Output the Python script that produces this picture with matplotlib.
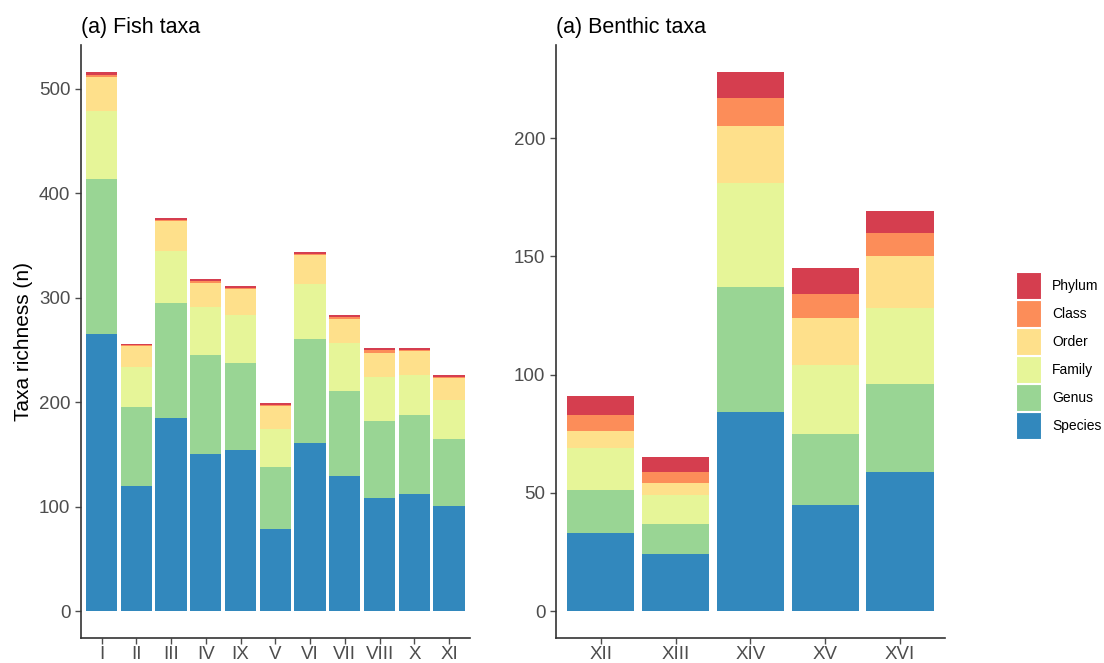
import matplotlib
matplotlib.use("Agg")
import matplotlib.pyplot as plt
from matplotlib.patches import Rectangle
import numpy as np

plt.rcParams['font.family'] = ['Liberation Sans', 'DejaVu Sans']

levels = ["Species", "Genus", "Family", "Order", "Class", "Phylum"]
level_colors = ["#3288BD", "#99D594", "#E6F598", "#FEE08B", "#FC8D59", "#D53E4F"]

# fish taxa richness per site, one list per taxonomic level
fish_sites = ["I", "II", "III", "IV", "IX", "V", "VI", "VII", "VIII", "X", "XI"]
fish_species = [265, 120, 185, 150, 154, 79, 161, 129, 108, 112, 101]
fish_genus = [149, 75, 110, 95, 83, 59, 99, 82, 74, 76, 64]
fish_family = [65, 39, 50, 46, 46, 36, 53, 46, 42, 38, 37]
fish_order = [32, 20, 28, 23, 25, 22, 28, 23, 23, 23, 21]
fish_class = [2, 1, 1, 2, 1, 1, 1, 1, 3, 1, 1]
fish_phylum = [3, 1, 2, 2, 2, 2, 2, 2, 2, 2, 2]

# benthic taxa richness per site
benthic_sites = ["XII", "XIII", "XIV", "XV", "XVI"]
benthic_species = [33, 24, 84, 45, 59]
benthic_genus = [18, 13, 53, 30, 37]
benthic_family = [18, 12, 44, 29, 32]
benthic_order = [7, 5, 24, 20, 22]
benthic_class = [7, 5, 12, 10, 10]
benthic_phylum = [8, 6, 11, 11, 9]

fish = [fish_species, fish_genus, fish_family, fish_order, fish_class, fish_phylum]
benthic = [benthic_species, benthic_genus, benthic_family, benthic_order,
           benthic_class, benthic_phylum]


def stacked(ax, sites, layers, title, ticks):
    x = np.arange(1, len(sites) + 1)
    bottom = np.zeros(len(sites))
    for vals, col in zip(layers, level_colors):
        ax.bar(x, vals, width=0.9, bottom=bottom, color=col, linewidth=0)
        bottom += np.array(vals)
    top = bottom.max()
    ax.set_ylim(-0.05 * top, 1.05 * top)
    ax.set_xlim(0.4, len(sites) + 0.6)
    ax.set_xticks(x)
    ax.set_xticklabels(sites)
    ax.set_yticks(ticks)
    for s in ["top", "right"]:
        ax.spines[s].set_visible(False)
    for s in ["left", "bottom"]:
        ax.spines[s].set_color("#333333")
        ax.spines[s].set_linewidth(1.2)
    ax.tick_params(colors="#4D4D4D", labelsize=13.5, length=4, width=1)
    ax.tick_params(axis="x", pad=2)
    ax.set_title(title, loc="left", fontsize=15.5, pad=9)


fig = plt.figure(figsize=(11.04, 6.63), dpi=100)
ax1 = fig.add_axes([0.0731, 0.0377, 0.3526, 0.8944])
ax2 = fig.add_axes([0.5034, 0.0377, 0.3526, 0.8944])

stacked(ax1, fish_sites, fish, "(a) Fish taxa", [0, 100, 200, 300, 400, 500])
stacked(ax2, benthic_sites, benthic, "(a) Benthic taxa", [0, 50, 100, 150, 200])
ax1.set_ylabel("Taxa richness (n)", fontsize=15, labelpad=4)

# legend keys drawn in a small axes, Phylum on top
leg = fig.add_axes([1016 / 1104, 1 - 440 / 663, 88 / 1104, 168 / 663])
leg.set_xlim(0, 88)
leg.set_ylim(0, 168)
leg.axis("off")
for i, (name, col) in enumerate(zip(levels, level_colors)):
    y0 = i * 28
    leg.add_patch(Rectangle((0, y0), 26, 28, facecolor=col,
                            edgecolor="white", linewidth=1.5))
    leg.text(36, y0 + 14, name, va="center", ha="left", fontsize=10)

fig.savefig("out.png", dpi=100)
